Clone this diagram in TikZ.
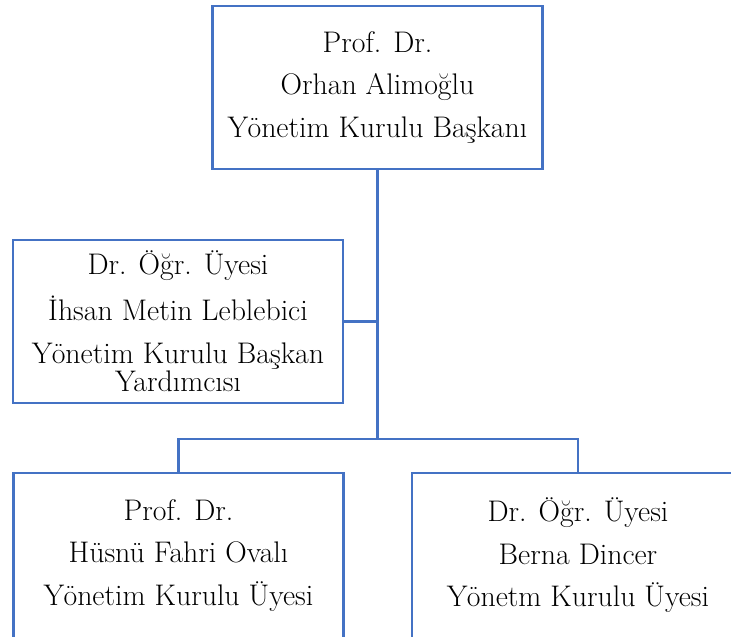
\documentclass[tikz,border=0pt]{standalone}
\usepackage{fontspec}
\usepackage{tikz}
\usetikzlibrary{%
  positioning
 ,calc
}
\definecolor{orgblue}{RGB}{68,114,196}
\tikzstyle{box}=[rectangle,draw=orgblue,line width=2.4pt,align=center,
  minimum width=330pt,minimum height=163pt,inner sep=0pt,
  font=\fontsize{29.8}{28.5}\selectfont]
\tikzstyle{link}=[draw=orgblue,line width=2.6pt]

\begin{document}
\begin{tikzpicture}[x=1pt,y=-1pt]
  \useasboundingbox (0,0) rectangle (731,637);
  % the boxes
  \node[box](chair) at (377.5,87.5)
    {Prof. Dr.\\[14pt]Orhan Alimoğlu\\[14pt]Yönetim Kurulu Başkanı};
  \node[box](vice) at (178,321.5)
    {Dr. Öğr. Üyesi\\[14pt]İhsan Metin Leblebici\\[14pt]Yönetim Kurulu Başkan\\Yardımcısı};
  \node[box,minimum height=165pt](m1) at (178.5,555.5)
    {Prof. Dr.\\[14pt]Hüsnü Fahri Ovalı\\[14pt]Yönetim Kurulu Üyesi};
  \node[box,minimum height=165pt,minimum width=332pt](m2) at (578,555.5)
    {Dr. Öğr. Üyesi\\[14pt]Berna Dincer\\[14pt]Yönetm Kurulu Üyesi};
  % the lines
  \coordinate (split) at (chair.south |- 0,439);
  \draw[link] (chair.south)--(split) (vice.east)--(vice.east -| chair.south);
  \draw[link] (m1.north)|-(split)-|(m2.north);
\end{tikzpicture}
\end{document}
